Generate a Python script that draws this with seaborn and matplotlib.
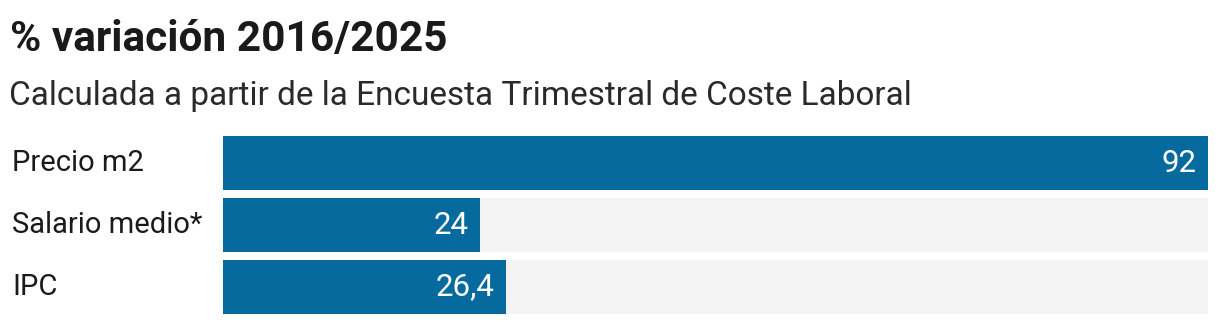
import matplotlib
matplotlib.use("Agg")
import matplotlib.pyplot as plt
import seaborn as sns
import pandas as pd

categories = ["Precio m2", "Salario medio*", "IPC"]
values = [92, 24, 26.4]
value_labels = ["92", "24", "26,4"]
title = "% variación 2016/2025"
subtitle = "Calculada a partir de la Encuesta Trimestral de Coste Laboral"

sns.set_theme(style="white")
plt.rcParams["font.family"] = ["Roboto", "DejaVu Sans"]

W, H = 1220, 324
fig = plt.figure(figsize=(W / 100, H / 100), dpi=100)
ax = fig.add_axes([223 / W, (H - 318) / H, (1208 - 223) / W, 186 / H])

df = pd.DataFrame({"cat": categories, "val": values})
xmax = max(values)
bg = pd.DataFrame({"cat": categories, "val": [xmax] * len(categories)})

sns.barplot(data=bg, x="val", y="cat", orient="h", color="#f3f3f3",
            width=0.87, saturation=1, linewidth=0, ax=ax)
sns.barplot(data=df, x="val", y="cat", orient="h", color="#066a9e",
            width=0.87, saturation=1, linewidth=0, ax=ax)

ax.set_xlim(0, xmax)
ax.set_ylim(2.5, -0.5)
ax.set_xlabel("")
ax.set_ylabel("")
ax.set_xticks([])
ax.set_yticks([])
for s in ax.spines.values():
    s.set_visible(False)

for i, (v, lab) in enumerate(zip(values, value_labels)):
    ax.annotate(lab, xy=(v, i), xytext=(-8, 0), textcoords="offset points",
                ha="right", va="center", color="white", fontsize=22.5)
    fig.text(12 / W, 1 - (163 + 62 * i) / H, categories[i], ha="left",
             va="center", fontsize=21, color="#1a1a1a")

fig.text(10 / W, 1 - 40 / H, title, fontsize=30.5, fontweight="bold",
         color="#1a1a1a", ha="left", va="center")
fig.text(9 / W, 1 - 96 / H, subtitle, fontsize=24, color="#2a2a2a",
         ha="left", va="center")

fig.savefig("out.png", dpi=100, facecolor="white")
